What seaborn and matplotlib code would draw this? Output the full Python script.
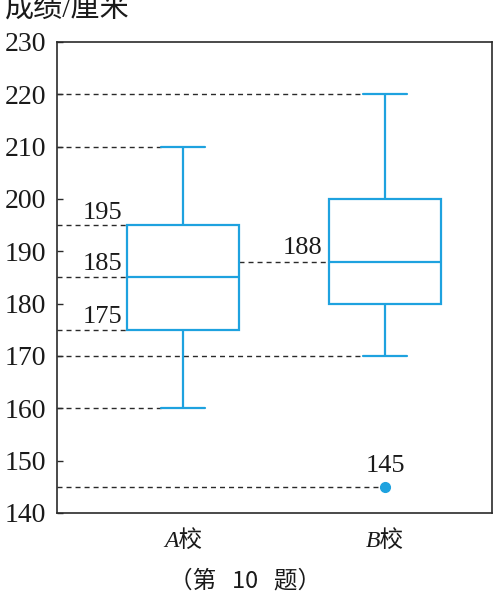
import matplotlib
matplotlib.use('Agg')
import pandas as pd
import matplotlib.pyplot as plt
import seaborn as sns

# 数据：两校成绩（能复现图中的五数概括）
schools = ['A校', 'B校']
a_scores = [160, 175, 185, 195, 210]
b_scores = [145, 170, 180, 184, 188, 194, 200, 210, 220]
# 图中标注的数值
a_marks = [195, 185, 175]
b_median = 188
b_outlier = 145
y_ticks = list(range(140, 231, 10))

sns.set_theme(style='ticks')
plt.rcParams['font.family'] = ['Liberation Serif', 'Noto Sans CJK SC']
plt.rcParams['axes.unicode_minus'] = False

df = pd.DataFrame({
    'school': [schools[0]] * len(a_scores) + [schools[1]] * len(b_scores),
    'score': a_scores + b_scores,
})

blue = '#1ea2df'
dark = '#2a2a2a'
box_w = 0.555
cap_w = 0.22

fig = plt.figure(figsize=(5, 6.04), dpi=100)
ax = fig.add_axes([0.114, 0.1507, 0.87, 0.78])

sns.boxplot(data=df, x='school', y='score', order=schools, ax=ax,
            width=box_w, color='white', linecolor=blue, linewidth=1.6,
            whis=1.5,
            flierprops=dict(marker='o', markerfacecolor=blue,
                            markeredgecolor=blue, markersize=7))

# 缩短须线端帽
for ln in ax.lines:
    xs, ys = ln.get_xdata(), ln.get_ydata()
    if len(xs) == 2 and ys[0] == ys[1]:
        w = abs(xs[1] - xs[0])
        if abs(w - box_w / 2) < 1e-6:
            c = (xs[0] + xs[1]) / 2
            ln.set_xdata([c - cap_w / 2, c + cap_w / 2])

left, right = -0.624, 1.53
ax.set_xlim(left, right)
ax.set_ylim(y_ticks[0], y_ticks[-1])
ax.set_yticks(y_ticks)

xa, xb = 0, 1
hb, hc = box_w / 2, cap_w / 2
guides = [
    (b_scores[-1], left, xb - hc),
    (a_scores[-1], left, xa - hc),
    (a_marks[0], left, xa - hb),
    (a_marks[1], left, xa - hb),
    (a_marks[2], left, xa - hb),
    (b_median, xa + hb, xb - hb),
    (b_scores[1], left, xb - hc),
    (a_scores[0], left, xa - hc),
    (b_outlier, left, xb),
]
for y, x0, x1 in guides:
    ax.plot([x0, x1], [y, y], color=dark, lw=1.0, dashes=(3.6, 2.9), zorder=0.5)

lab_kw = dict(fontsize=19, color='#1a1a1a', ha='center', va='baseline')
offsets = [1.1, 1.5, 1.3]
for v, off in zip(a_marks, offsets):
    ax.text(-0.40, v + off, str(v), **lab_kw)
ax.text(0.59, b_median + 1.5, str(b_median), **lab_kw)
ax.text(xb, b_outlier + 2.9, str(b_outlier), **lab_kw)

for s in ax.spines.values():
    s.set_color(dark)
    s.set_linewidth(1.2)
ax.tick_params(axis='y', direction='in', length=4.5, width=1.0, color=dark,
               labelsize=20, labelcolor='#1a1a1a', pad=8)
ax.tick_params(axis='x', length=0, labelsize=17, labelcolor='#1a1a1a', pad=12)
for lbl in ax.get_xticklabels():
    lbl.set_fontstyle('italic')
ax.set_xlabel('')
ax.set_ylabel('')

fig.text(0.01, 0.983, '成绩/厘米', fontsize=21, color='#1a1a1a', ha='left', va='center')
fig.text(0.491, 0.038, '（第   10   题）', fontsize=17, color='#1a1a1a',
         ha='center', va='center', family=['Noto Sans CJK SC'])

fig.savefig('out.png', dpi=100)
